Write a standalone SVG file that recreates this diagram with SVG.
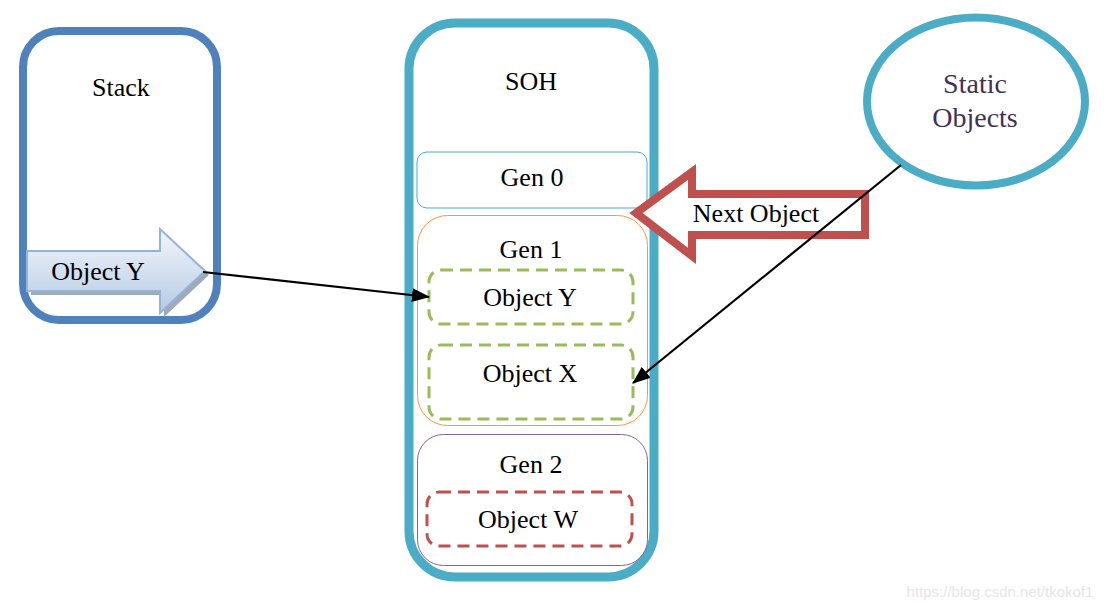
<svg xmlns="http://www.w3.org/2000/svg" width="1107" height="607" viewBox="0 0 1107 607">
<style>
text{font-family:"Liberation Serif","Times New Roman",serif;font-size:26px;fill:#000;text-anchor:middle}
.thin{fill:none;stroke-width:1}
.dash{fill:none;stroke-width:3;stroke-dasharray:12 7}
.conn{stroke:#000;stroke-width:2.2;fill:none}
</style>
<defs>
<linearGradient id="gY" x1="0" y1="0" x2="0" y2="1">
<stop offset="0" stop-color="#f2f6fb"/>
<stop offset="1" stop-color="#b6cae3"/>
</linearGradient>
<marker id="ah" viewBox="0 0 18 14" refX="17" refY="7" markerWidth="18" markerHeight="14" markerUnits="userSpaceOnUse" orient="auto">
<path d="M0,0 L18,7 L0,14 z" fill="#000"/>
</marker>
</defs>
<rect width="1107" height="607" fill="#fff"/>

<g id="stack">
<rect x="23" y="31" width="194" height="289" rx="36" fill="#fff" stroke="#4F81BD" stroke-width="8"/>
<text x="121" y="96">Stack</text>
</g>

<g id="stack-object-y">
<polygon points="31,255 164,255 164,233 209,275 164,317 164,295 31,295" fill="#8496ac" opacity="0.8"/>
<polygon points="27,251 160,251 160,229 205,271 160,313 160,291 27,291" fill="url(#gY)" stroke="#95B3D7" stroke-width="2"/>
<text x="98" y="280">Object Y</text>
</g>

<g id="soh">
<rect x="409" y="23" width="245" height="554" rx="46" fill="#fff" stroke="#4BACC6" stroke-width="9"/>
<text x="531" y="90">SOH</text>
</g>

<g id="gen0">
<rect x="417" y="152" width="230" height="56" rx="10" class="thin" stroke="#4BACC6"/>
<text x="532" y="186">Gen 0</text>
</g>

<g id="gen1">
<rect x="417.5" y="215.5" width="230" height="210" rx="30" class="thin" stroke="#F79646"/>
<text x="531" y="258">Gen 1</text>
</g>

<g id="object-y">
<rect x="429" y="270" width="204" height="54" rx="12" class="dash" stroke="#9BBB59"/>
<text x="530" y="306">Object Y</text>
</g>

<g id="object-x">
<rect x="429" y="345" width="204" height="74" rx="12" class="dash" stroke="#9BBB59"/>
<text x="530" y="382">Object X</text>
</g>

<g id="gen2">
<rect x="417.5" y="434.5" width="230" height="131" rx="26" class="thin" stroke="#8064A2"/>
<text x="531" y="473">Gen 2</text>
</g>

<g id="object-w">
<rect x="427" y="492" width="205" height="54" rx="12" class="dash" stroke="#C0504D"/>
<text x="528" y="528">Object W</text>
</g>

<g id="next-object">
<polygon points="636,213 692,172 692,194 865,194 865,235 692,235 692,256" fill="#fff" stroke="#C0504D" stroke-width="8"/>
<text x="756" y="222">Next Object</text>
</g>

<g id="static-objects">
<ellipse cx="976" cy="101.5" rx="109" ry="84" fill="#fff" stroke="#4BACC6" stroke-width="8"/>
<text x="975" y="93" style="font-size:28px;fill:#403152">Static</text>
<text x="975" y="127" style="font-size:28px;fill:#403152">Objects</text>
</g>

<g id="connectors">
<line x1="203" y1="272" x2="429" y2="297" class="conn" marker-end="url(#ah)"/>
<line x1="901" y1="165" x2="633" y2="383" class="conn" marker-end="url(#ah)"/>
</g>

<text x="1000" y="597" style="font-family:'Liberation Sans',Arial,sans-serif;font-size:15px;fill:#e6e6e6">https://blog.csdn.net/tkokof1</text>
</svg>
